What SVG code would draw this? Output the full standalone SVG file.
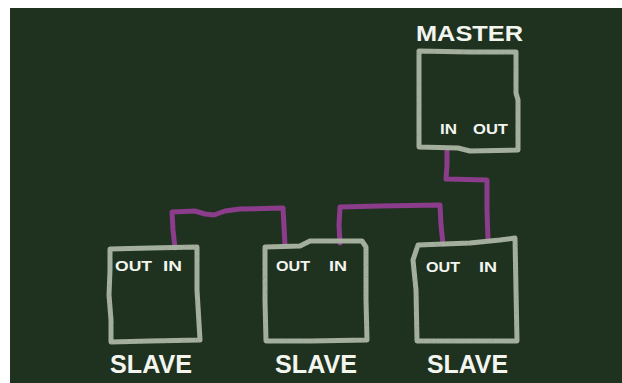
<svg xmlns="http://www.w3.org/2000/svg" width="622" height="383" viewBox="0 0 622 383">
<defs>
<filter id="chalk" x="-5%" y="-5%" width="110%" height="110%">
<feTurbulence type="fractalNoise" baseFrequency="0.9" numOctaves="2" seed="3" result="n"/>
<feColorMatrix in="n" type="matrix" values="0 0 0 0 0  0 0 0 0 0  0 0 0 0 0  0 0 0 -0.8 1.5" result="a"/>
<feComposite in="SourceGraphic" in2="a" operator="in"/>
</filter>
</defs>
<style>
.box{fill:none;stroke:#a4af9d;stroke-width:5;stroke-linejoin:round;stroke-linecap:round}
.wire{fill:none;stroke:#8b3c8b;stroke-width:5;stroke-linejoin:round;stroke-linecap:round}
.port{font-family:"Liberation Sans",Arial,sans-serif;font-weight:bold;font-size:15px;fill:#f3f5ef}
.title{font-family:"Liberation Sans",Arial,sans-serif;font-weight:bold;fill:#f3f5ef}
</style>
<rect x="0" y="0" width="622" height="383" fill="#ffffff"/>
<rect x="10" y="8" width="612" height="375" fill="#1f3220"/>
<g id="connectors">
<path class="wire" d="M175,248 L173,230 L172,212 L195,211 L205,214 L214,215 L225,211 L240,209 L283,208 L284,226 L285,246"/>
<path class="wire" d="M340,243 L339,225 L340,207 L380,206 L440,205 L441,225 L443,244"/>
<path class="wire" d="M447,150 L447,165 L446,179 L487,180 L487,210 L488,240"/>
</g>
<g id="master">
<text class="title" x="416" y="41" font-size="22" textLength="107" lengthAdjust="spacingAndGlyphs">MASTER</text>
<path class="box" d="M419,51 L470,52 L516,52 L516,93 L518,100 L518,150 L470,151 L458,148 L419,147 Z" filter="url(#chalk)"/>
<text class="port" x="440" y="134" textLength="17" lengthAdjust="spacingAndGlyphs">IN</text>
<text class="port" x="473" y="134" textLength="35" lengthAdjust="spacingAndGlyphs">OUT</text>
</g>
<g id="slave1">
<path class="box" d="M110,249 L150,248 L197,247 L197,290 L200,340 L150,341 L111,342 L111,320 L109,295 L110,270 Z" filter="url(#chalk)"/>
<text class="port" x="115" y="271" textLength="37" lengthAdjust="spacingAndGlyphs">OUT</text>
<text class="port" x="163" y="271" textLength="19" lengthAdjust="spacingAndGlyphs">IN</text>
<text class="title" x="110" y="373" font-size="25" textLength="82" lengthAdjust="spacingAndGlyphs">SLAVE</text>
</g>
<g id="slave2">
<path class="box" d="M265,247 L300,246 L310,241 L362,241 L366,247 L366,300 L367,340 L310,341 L266,341 L265,300 Z" filter="url(#chalk)"/>
<text class="port" x="276" y="271" textLength="34" lengthAdjust="spacingAndGlyphs">OUT</text>
<text class="port" x="329" y="271" textLength="18" lengthAdjust="spacingAndGlyphs">IN</text>
<text class="title" x="275" y="373" font-size="25" textLength="82" lengthAdjust="spacingAndGlyphs">SLAVE</text>
</g>
<g id="slave3">
<path class="box" d="M418,245 L470,243 L500,240 L515,238 L516,290 L517,341 L470,341 L417,341 L416,290 L413,260 Z" filter="url(#chalk)"/>
<text class="port" x="426" y="272" textLength="34" lengthAdjust="spacingAndGlyphs">OUT</text>
<text class="port" x="479" y="272" textLength="18" lengthAdjust="spacingAndGlyphs">IN</text>
<text class="title" x="427" y="373" font-size="25" textLength="81" lengthAdjust="spacingAndGlyphs">SLAVE</text>
</g>
</svg>
